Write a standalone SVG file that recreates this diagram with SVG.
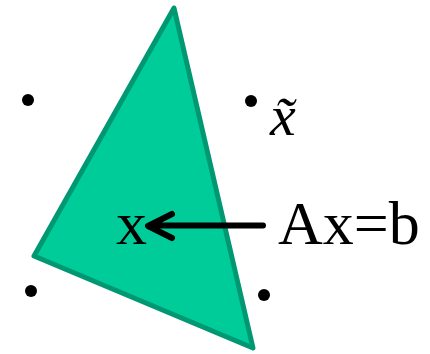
<svg xmlns="http://www.w3.org/2000/svg" width="430" height="354" viewBox="0 0 430 354">
<style>
.dot{fill:#000}
.t{font-family:"Liberation Serif","Times New Roman",serif;fill:#000}
</style>
<rect width="430" height="354" fill="#fff"/>
<g id="triangle">
<polygon points="174,8 34,256 253,348" fill="#00CC99" stroke="#009872" stroke-width="5" stroke-linejoin="round"/>
</g>
<g id="dots">
<circle class="dot" cx="28" cy="100" r="6"/>
<circle class="dot" cx="251" cy="101" r="6"/>
<circle class="dot" cx="31" cy="291" r="6"/>
<circle class="dot" cx="264" cy="295" r="6"/>
</g>
<g id="xtilde">
<text class="t" x="270" y="135" font-size="58" font-style="italic">x̃</text>
</g>
<g id="x">
<text class="t" x="116" y="244" font-size="62">x</text>
</g>
<g id="axb">
<text class="t" x="278" y="244" font-size="62">Ax=b</text>
</g>
<g id="connectors">
<path d="M263,225.5 H150 M172,214 L148,226 L172,238" fill="none" stroke="#000" stroke-width="6" stroke-linecap="round" stroke-linejoin="round"/>
</g>
</svg>
